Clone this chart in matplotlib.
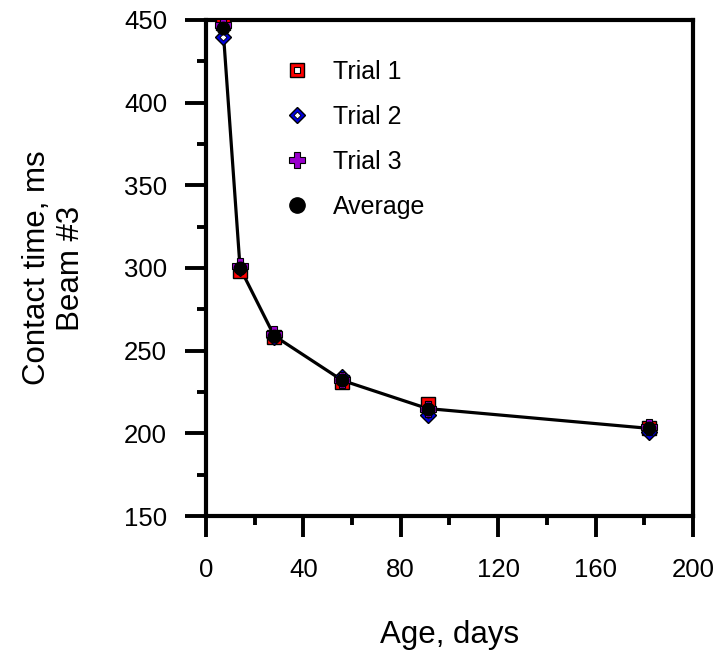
import matplotlib.pyplot as plt
from matplotlib.lines import Line2D

plt.rcParams['font.family'] = ['Liberation Sans', 'DejaVu Sans']

# Contact time readings for beam #3
age = [7, 14, 28, 56, 91, 182]
trial1 = [448, 298, 258, 231, 218, 203]
trial2 = [440, 300, 258, 234, 211, 201]
trial3 = [447, 301, 260, 232, 215, 204]
average = [445, 300, 259, 232, 215, 203]

# marker styles, outer part and inner part
sq_out = dict(marker='s', ms=10.5, mfc='red', mec='black', mew=1)
sq_in = dict(marker='s', ms=4.5, mfc='white', mec='black', mew=0.8)
dm_out = dict(marker='D', ms=8.5, mfc='#0000dd', mec='black', mew=1)
dm_in = dict(marker='D', ms=3.5, mfc='white', mec='black', mew=0.6)
plus = dict(marker='P', ms=11, mfc='#9900cc', mec='black', mew=0.8)
dot = dict(marker='o', ms=11, mfc='black', mec='black')

fig = plt.figure(figsize=(7.21, 6.55), dpi=100)
ax = fig.add_axes([0.2857, 0.2122, 0.6753, 0.7573])

ax.plot(age, average, color='black', lw=2.3, zorder=2)
ax.plot(age, trial1, ls='', zorder=3, **sq_out)
ax.plot(age, trial1, ls='', zorder=3, **sq_in)
ax.plot(age, trial2, ls='', zorder=4, **dm_out)
ax.plot(age, trial2, ls='', zorder=4, **dm_in)
ax.plot(age, trial3, ls='', zorder=5, **plus)
ax.plot(age, average, ls='', zorder=6, ms=9, marker='o', color='black')

ax.set_xlim(0, 200)
ax.set_ylim(150, 450)
ax.set_xticks(range(0, 201, 40))
ax.set_xticks(range(20, 200, 40), minor=True)
ax.set_yticks(range(150, 451, 50))
ax.set_yticks(range(175, 450, 50), minor=True)

for s in ax.spines.values():
    s.set_linewidth(3)
ax.tick_params(which='major', direction='out', length=15, width=2.8, labelsize=18.5, pad=13)
ax.tick_params(axis='x', which='major', pad=15)
ax.tick_params(which='minor', direction='out', length=6.5, width=2.8)
ax.tick_params(top=False, right=False)

ax.set_xlabel('Age, days', fontsize=22.5)
ax.xaxis.set_label_coords(0.5, -0.21)
ax.set_ylabel('Contact time, ms\nBeam #3', fontsize=22.5, linespacing=1.15)
ax.yaxis.set_label_coords(-0.247, 0.5)

h1 = (Line2D([], [], ls='', **sq_out), Line2D([], [], ls='', **sq_in))
h2 = (Line2D([], [], ls='', **dm_out), Line2D([], [], ls='', **dm_in))
h3 = Line2D([], [], ls='', **plus)
h4 = Line2D([], [], ls='', **dot)
ax.legend([h1, h2, h3, h4], ['Trial 1', 'Trial 2', 'Trial 3', 'Average'],
          loc='upper left', bbox_to_anchor=(0.156, 0.92), frameon=False,
          borderpad=0, borderaxespad=0, fontsize=18, labelspacing=0.84,
          handletextpad=0.84, handlelength=1.2)

fig.savefig('out.png', dpi=100)
